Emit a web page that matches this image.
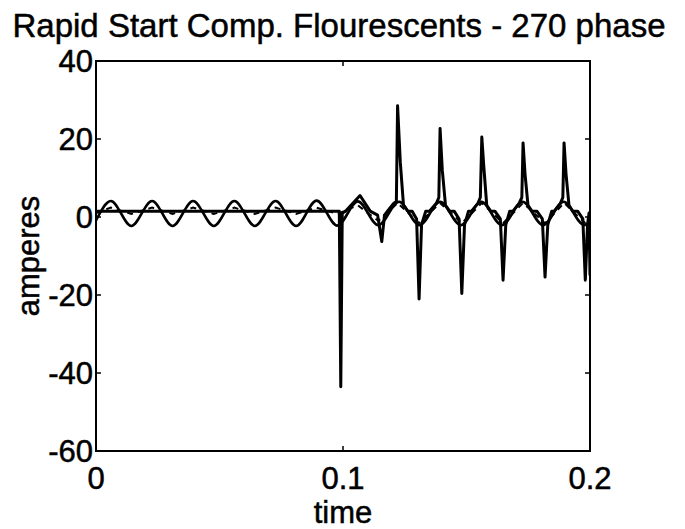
<!DOCTYPE html>
<html>
<head>
<meta charset="utf-8">
<script src="https://cdn.jsdelivr.net/npm/d3@7"></script>
<style>
  body { margin: 0; background: #fff; }
  text { font-family: "Liberation Sans", Arial, Helvetica, sans-serif; fill: #000; stroke: #000; stroke-width: 0.5px; }
</style>
</head>
<body>
<script>
// axis ticks
const xTicks = [0, 0.1, 0.2];
const yTicks = [-60, -40, -20, 0, 20, 40];

// sinusoid trace (peaks and troughs)
const sineTime = [0, 0.0060, 0.0143, 0.0227, 0.0310, 0.0393, 0.0477, 0.0560, 0.0643,
  0.0727, 0.0810, 0.0893, 0.0977, 0.1060, 0.1143, 0.1227, 0.1310, 0.1393, 0.1477,
  0.1560, 0.1643, 0.1727, 0.1810, 0.1893, 0.1977, 0.2];
const sineValue = [-0.9, 4.1, -2.3, 4.1, -2.3, 4.1, -2.3, 4.1, -2.3,
  4.1, -2.3, 4.2, -2.2, 4.0, -2.1, 3.9, -2.1, 3.9, -2.1,
  3.9, -2.1, 3.9, -2.1, 3.9, -2.1, -1.0];

// current trace: flat, then spikes after switch-on at 0.1
const currentTime = [0, 0.0985, 0.0991, 0.0997, 0.1010, 0.1069, 0.1110,
  0.1140, 0.1157, 0.1168, 0.1180, 0.1205, 0.1216, 0.1221, 0.1232, 0.1245, 0.1262,
  0.1280, 0.1298, 0.1308, 0.1318, 0.1335,
  0.1350, 0.1378, 0.1388, 0.1393, 0.1402, 0.1415, 0.1432,
  0.1450, 0.1470, 0.1481, 0.1492, 0.1508,
  0.1520, 0.1546, 0.1556, 0.1562, 0.1570, 0.1582, 0.1598,
  0.1615, 0.1637, 0.1648, 0.1659, 0.1675,
  0.1688, 0.1713, 0.1724, 0.1729, 0.1737, 0.1749, 0.1765,
  0.1785, 0.1807, 0.1818, 0.1829, 0.1845,
  0.1855, 0.1880, 0.1890, 0.1895, 0.1903, 0.1915, 0.1930,
  0.1950, 0.1971, 0.1981, 0.1990, 0.1996, 0.2];
const currentValue = [1.5, 1.5, -43.5, 1.0, 1.5, 5.5, 1.5,
  0.5, -6.3, 0.5, 1.5, 3.5, 4.0, 28.5, 14, 3.0, 1.5,
  1.5, -0.5, -21, -2, 1.5,
  1.5, 3.5, 5.0, 22.7, 12, 3.0, 1.5,
  1.5, -0.5, -19.6, -2, 1.5,
  1.5, 3.5, 5.0, 20.5, 13, 3.0, 1.5,
  1.5, -0.5, -16.2, -2, 1.5,
  1.5, 3.5, 5.0, 19.0, 11, 3.0, 1.5,
  1.5, -0.5, -15.4, -2, 1.5,
  1.5, 3.5, 5.0, 19.0, 11, 3.0, 1.5,
  1.5, -0.5, -16.2, -2, 1.0, -15];

// dashed trace, small wiggle near the flat line
const dashTime = [0, 0.0060, 0.0143, 0.0227, 0.0310, 0.0393, 0.0477, 0.0560, 0.0643,
  0.0727, 0.0810, 0.0893, 0.0977, 0.1060, 0.1143, 0.1221, 0.1308, 0.1393, 0.1481,
  0.1562, 0.1648, 0.1729, 0.1818, 0.1895, 0.1981, 0.2];
const dashValue = [1.0, 2.4, 0.8, 2.4, 0.8, 2.4, 0.8, 2.4, 0.8,
  2.4, 0.8, 2.4, 0.8, 3.0, -1.0, 3.6, -1.6, 3.6, -1.6,
  3.6, -1.6, 3.6, -1.6, 3.6, -1.6, 0.5];

// dimensions
const width = 685;
const height = 529;
const margin = { top: 61, right: 95, bottom: 78, left: 96 };

var svg = d3
  .select("body")
  .append("svg")
  .attr("width", width)
  .attr("height", height);

var x = d3
  .scaleLinear()
  .domain([0, 0.2])
  .range([margin.left, width - margin.right]);

var y = d3
  .scaleLinear()
  .domain([-60, 40])
  .range([height - margin.bottom, margin.top]);

// clip lines to the plot box
svg
  .append("clipPath")
  .attr("id", "plotArea")
  .append("rect")
  .attr("x", x(0))
  .attr("y", y(40))
  .attr("width", x(0.2) - x(0))
  .attr("height", y(-60) - y(40));

var plot = svg.append("g").attr("clip-path", "url(#plotArea)");

// sinusoid
plot
  .append("path")
  .datum(sineTime.map((t, i) => [t, sineValue[i]]))
  .attr("fill", "none")
  .attr("stroke", "#000")
  .attr("stroke-width", 2.6)
  .attr(
    "d",
    d3
      .line()
      .curve(d3.curveMonotoneX)
      .x((d) => x(d[0]))
      .y((d) => y(d[1]))
  );

// dashed trace
plot
  .append("path")
  .datum(dashTime.map((t, i) => [t, dashValue[i]]))
  .attr("fill", "none")
  .attr("stroke", "#000")
  .attr("stroke-width", 2)
  .attr("stroke-dasharray", "6,5")
  .attr(
    "d",
    d3
      .line()
      .x((d) => x(d[0]))
      .y((d) => y(d[1]))
  );

// current
plot
  .append("path")
  .datum(currentTime.map((t, i) => [t, currentValue[i]]))
  .attr("fill", "none")
  .attr("stroke", "#000")
  .attr("stroke-width", 3)
  .attr("stroke-linejoin", "round")
  .attr(
    "d",
    d3
      .line()
      .x((d) => x(d[0]))
      .y((d) => y(d[1]))
  );

// frame
svg
  .append("rect")
  .attr("x", x(0))
  .attr("y", y(40))
  .attr("width", x(0.2) - x(0))
  .attr("height", y(-60) - y(40))
  .attr("fill", "none")
  .attr("stroke", "#000")
  .attr("stroke-width", 2);

// inward ticks on all four sides
const tickLen = 5;
svg
  .selectAll(".xtick")
  .data(xTicks)
  .join("path")
  .attr("stroke", "#000")
  .attr("stroke-width", 1.5)
  .attr("d", (d) =>
    "M" + x(d) + "," + y(-60) + "v" + -tickLen +
    "M" + x(d) + "," + y(40) + "v" + tickLen
  );

svg
  .selectAll(".ytick")
  .data(yTicks)
  .join("path")
  .attr("stroke", "#000")
  .attr("stroke-width", 1.5)
  .attr("d", (d) =>
    "M" + x(0) + "," + y(d) + "h" + tickLen +
    "M" + x(0.2) + "," + y(d) + "h" + -tickLen
  );

// tick labels
svg
  .selectAll(".xlabel")
  .data(xTicks)
  .join("text")
  .attr("x", (d) => x(d))
  .attr("y", y(-60) + 38)
  .attr("text-anchor", "middle")
  .attr("font-size", 31)
  .text((d) => d3.format("")(d));

svg
  .selectAll(".ylabel")
  .data(yTicks)
  .join("text")
  .attr("x", x(0) - 3)
  .attr("y", (d) => y(d) + 11)
  .attr("text-anchor", "end")
  .attr("font-size", 31)
  .text((d) => d);

// axis titles
svg
  .append("text")
  .attr("x", x(0.1))
  .attr("y", 523)
  .attr("text-anchor", "middle")
  .attr("font-size", 31)
  .text("time");

svg
  .append("text")
  .attr("transform", "translate(39," + y(-10) + ") rotate(-90)")
  .attr("text-anchor", "middle")
  .attr("font-size", 31)
  .text("amperes");

// title
svg
  .append("text")
  .attr("x", 339)
  .attr("y", 37)
  .attr("text-anchor", "middle")
  .attr("font-size", 33)
  .text("Rapid Start Comp. Flourescents - 270 phase");
</script>
</body>
</html>
